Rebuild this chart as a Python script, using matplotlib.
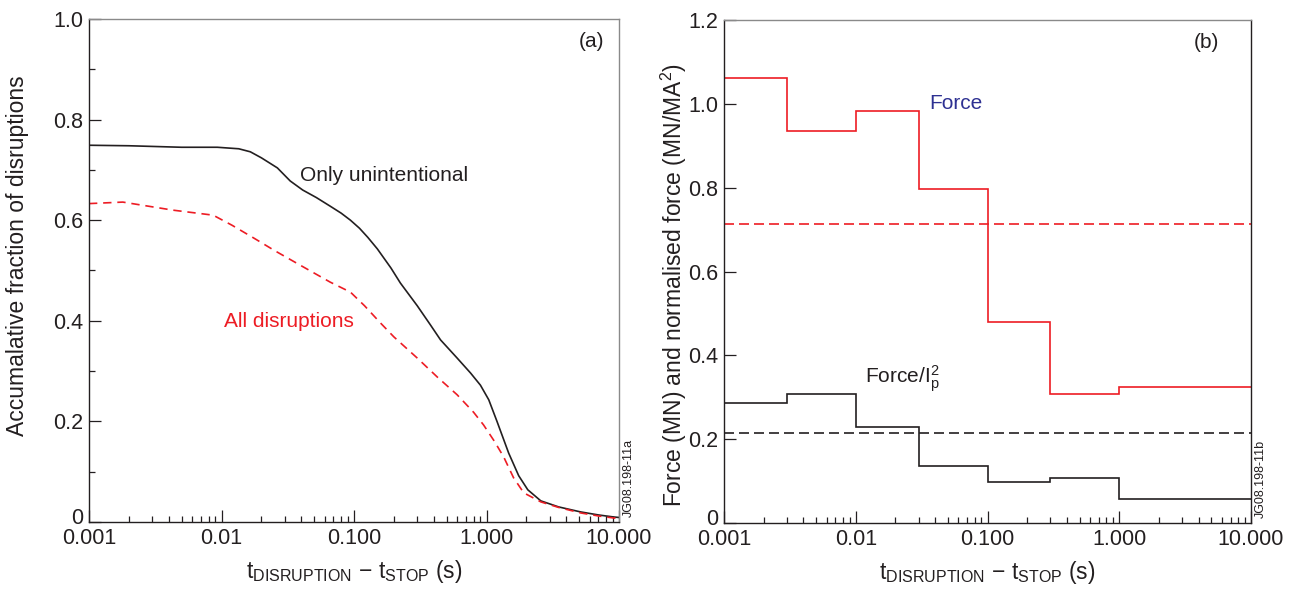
import numpy as np
import matplotlib
matplotlib.use("Agg")
from matplotlib import pyplot as plt
from matplotlib.ticker import FixedLocator, LogLocator, NullFormatter
from matplotlib.transforms import ScaledTranslation

plt.rcParams['font.family'] = ['Liberation Sans', 'DejaVu Sans']
plt.rcParams['mathtext.fontset'] = 'custom'
plt.rcParams['mathtext.rm'] = 'Liberation Sans'
plt.rcParams['mathtext.it'] = 'Liberation Sans'

RED = '#ed1c24'
BLUE = '#2e3192'
INK = '#231f20'

# panel (a): cumulative fraction of disruptions
t_unint = [0.001, 0.002, 0.005, 0.0093, 0.0135, 0.0165, 0.02, 0.0264, 0.033, 0.041,
           0.052, 0.066, 0.08, 0.094, 0.11, 0.127, 0.15, 0.19, 0.224, 0.3, 0.377, 0.45,
           0.6, 0.759, 0.9, 1.04, 1.2, 1.47, 1.75, 2.05, 2.57, 3.5, 5.14, 7.0, 9.1, 10.0]
f_unint = [0.749, 0.748, 0.745, 0.745, 0.742, 0.736, 0.724, 0.704, 0.678, 0.660,
           0.645, 0.628, 0.614, 0.600, 0.584, 0.566, 0.543, 0.505, 0.475, 0.430, 0.392,
           0.362, 0.326, 0.296, 0.272, 0.243, 0.200, 0.137, 0.092, 0.064, 0.042, 0.030,
           0.020, 0.014, 0.010, 0.009]
t_all = [0.001, 0.0018, 0.0043, 0.00865, 0.012, 0.0174, 0.025, 0.039, 0.066, 0.094,
         0.12, 0.158, 0.2, 0.3, 0.426, 0.6, 0.8, 0.95, 1.15, 1.35, 1.6, 1.91, 2.57,
         3.5, 5.14, 7.0, 9.1, 10.0]
f_all = [0.633, 0.636, 0.620, 0.610, 0.590, 0.565, 0.540, 0.511, 0.477, 0.457,
         0.430, 0.396, 0.368, 0.326, 0.288, 0.253, 0.218, 0.193, 0.160, 0.129, 0.088,
         0.058, 0.040, 0.029, 0.018, 0.012, 0.008, 0.007]

# panel (b): binned force and normalised force
bin_edges = [0.001, 0.003, 0.01, 0.03, 0.1, 0.3, 1.0, 10.0]
force = [1.061, 0.936, 0.983, 0.797, 0.480, 0.307, 0.325]
force_norm = [0.286, 0.307, 0.230, 0.137, 0.097, 0.107, 0.057]
force_mean = 0.713
force_norm_mean = 0.215

xticks = [0.001, 0.01, 0.1, 1.0, 10.0]
xticklabels = ['0.001', '0.01', '0.100', '1.000', '10.000']

fig = plt.figure(figsize=(12.9, 5.9), dpi=100)
ax1 = fig.add_axes([89 / 1290, 1 - 522 / 590, 530 / 1290, 503 / 590])
ax2 = fig.add_axes([724 / 1290, 1 - 523 / 590, 527 / 1290, 503 / 590])


def style_axes(ax, right_col):
    ax.set_xscale('log')
    ax.set_xlim(0.001, 10.0)
    ax.xaxis.set_major_locator(FixedLocator(xticks))
    ax.set_xticklabels(xticklabels)
    ax.xaxis.set_minor_locator(LogLocator(base=10, subs=np.arange(2, 10), numticks=20))
    ax.xaxis.set_minor_formatter(NullFormatter())
    ax.tick_params(which='both', direction='in', top=False, right=False,
                   color=INK, labelcolor=INK, labelsize=15.5, width=0.9)
    ax.tick_params(which='major', length=8.5, pad=4)
    ax.tick_params(which='minor', length=4.5)
    for s in ['left', 'bottom']:
        ax.spines[s].set_color(INK)
        ax.spines[s].set_linewidth(1.0)
    ax.spines['top'].set_color('#8a8a8a')
    ax.spines['top'].set_linewidth(1.0)
    ax.spines['right'].set_color(right_col)
    ax.spines['right'].set_linewidth(1.0)
    ax.set_xlabel(r't$_{\mathregular{DISRUPTION}}$ $-$ t$_{\mathregular{STOP}}$ (s)',
                  fontsize=16.5, color=INK, labelpad=7)


def lift_zero(ax):
    lab = ax.get_yticklabels()[0]
    lab.set_transform(lab.get_transform() + ScaledTranslation(0, 4 / 72, fig.dpi_scale_trans))


# ---- (a)
style_axes(ax1, '#8a8a8a')
ax1.plot(t_unint, f_unint, color=INK, lw=1.2)
ax1.plot(t_all, f_all, color=RED, lw=1.2, ls=(0, (5, 3.5)))
ax1.set_ylim(0, 1.0)
ax1.set_yticks([0, 0.2, 0.4, 0.6, 0.8, 1.0])
ax1.set_yticklabels(['0', '0.2', '0.4', '0.6', '0.8', '1.0'])
ax1.set_yticks(np.arange(0.1, 1.0, 0.2), minor=True)
lift_zero(ax1)
ax1.set_ylabel('Accumalative fraction of disruptions', fontsize=16.5, color=INK)
ax1.yaxis.set_label_coords(-0.113, 0.529)
ax1.text(0.039, 0.689, 'Only unintentional', fontsize=15, color=INK, va='center')
ax1.text(0.0104, 0.398, 'All disruptions', fontsize=15, color=RED, va='center')
ax1.text(0.948, 0.955, '(a)', transform=ax1.transAxes, fontsize=15, color=INK,
         ha='center', va='center')
ax1.text(1.008, 0.01, 'JG08.198-11a', transform=ax1.transAxes, fontsize=9,
         color=INK, rotation=90, ha='left', va='bottom')

# ---- (b)
style_axes(ax2, INK)
ax2.stairs(force, bin_edges, baseline=None, color=RED, lw=1.2)
ax2.stairs(force_norm, bin_edges, baseline=None, color=INK, lw=1.2)
ax2.axhline(force_mean, color=RED, lw=1.2, ls=(0, (6, 3)))
ax2.axhline(force_norm_mean, color=INK, lw=1.2, ls=(0, (6, 3)))
ax2.set_ylim(0, 1.2)
ax2.set_yticks([0, 0.2, 0.4, 0.6, 0.8, 1.0, 1.2])
ax2.set_yticklabels(['0', '0.2', '0.4', '0.6', '0.8', '1.0', '1.2'])
lift_zero(ax2)
ax2.set_ylabel(r'Force (MN) and normalised force (MN/MA$^{\mathregular{2}}$)',
               fontsize=16.5, color=INK)
ax2.yaxis.set_label_coords(-0.066, 0.473)
ax2.text(0.036, 1.0, 'Force', fontsize=15, color=BLUE, va='center')
ax2.text(0.0118, 0.345, r'Force/I$_{\mathregular{p}}^{\mathregular{2}}$', fontsize=15,
         color=INK, va='center')
ax2.text(0.915, 0.955, '(b)', transform=ax2.transAxes, fontsize=15, color=INK,
         ha='center', va='center')
ax2.text(1.008, 0.01, 'JG08.198-11b', transform=ax2.transAxes, fontsize=9,
         color=INK, rotation=90, ha='left', va='bottom')

fig.savefig('out.png', dpi=100)
